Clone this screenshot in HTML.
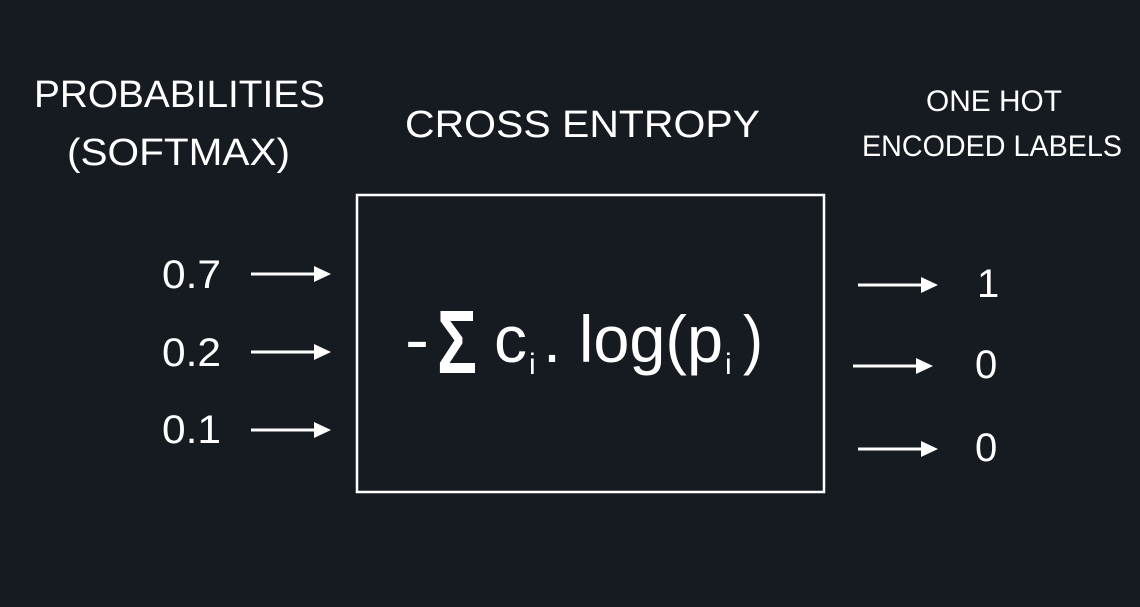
<!DOCTYPE html>
<html><head><meta charset="utf-8"><style>
html,body{margin:0;padding:0;background:#161b22;}
svg{display:block;}
text{font-family:"Liberation Sans",sans-serif;fill:#fff;}
</style></head><body>
<svg width="1140" height="607" viewBox="0 0 1140 607" xmlns="http://www.w3.org/2000/svg">
<rect width="1140" height="607" fill="#161b22"/>
<defs>
<g id="ar"><rect x="0" y="-1.5" width="66" height="3" fill="#fff"/><polygon points="63,-8 80,0 63,8" fill="#fff"/></g>
</defs>
<text x="34" y="107" font-size="38" textLength="291" lengthAdjust="spacingAndGlyphs">PROBABILITIES</text>
<text x="67" y="165" font-size="38" textLength="223" lengthAdjust="spacingAndGlyphs">(SOFTMAX)</text>
<text x="405" y="137" font-size="38" textLength="355" lengthAdjust="spacingAndGlyphs">CROSS ENTROPY</text>
<text x="926" y="111" font-size="30" textLength="136" lengthAdjust="spacingAndGlyphs">ONE HOT</text>
<text x="862" y="156" font-size="30" textLength="260" lengthAdjust="spacingAndGlyphs">ENCODED LABELS</text>
<rect x="357" y="195" width="467" height="297" fill="none" stroke="#fff" stroke-width="2.5"/>
<text x="162" y="288" font-size="40" textLength="59" lengthAdjust="spacingAndGlyphs">0.7</text>
<text x="162" y="366" font-size="40" textLength="59" lengthAdjust="spacingAndGlyphs">0.2</text>
<text x="162" y="443" font-size="40" textLength="59" lengthAdjust="spacingAndGlyphs">0.1</text>
<use href="#ar" x="251" y="274"/>
<use href="#ar" x="251" y="352"/>
<use href="#ar" x="251" y="430"/>
<use href="#ar" x="858" y="285"/>
<use href="#ar" x="853" y="366"/>
<use href="#ar" x="858" y="449"/>
<text x="977" y="297" font-size="40">1</text>
<text x="975" y="378" font-size="40">0</text>
<text x="975" y="461" font-size="40">0</text>
<text x="405" y="362" font-size="66" textLength="24" lengthAdjust="spacingAndGlyphs">-</text>
<text x="437" y="373" font-size="90" font-weight="bold" textLength="40" lengthAdjust="spacingAndGlyphs">Σ</text>
<text x="494" y="362" font-size="66" textLength="33" lengthAdjust="spacingAndGlyphs">c</text>
<text x="529" y="374" font-size="30">i</text>
<text x="543" y="362" font-size="66" textLength="180" lengthAdjust="spacingAndGlyphs">. log(p</text>
<text x="725" y="374" font-size="30">i</text>
<text x="743" y="362" font-size="66" textLength="20" lengthAdjust="spacingAndGlyphs">)</text>
</svg>
</body></html>
